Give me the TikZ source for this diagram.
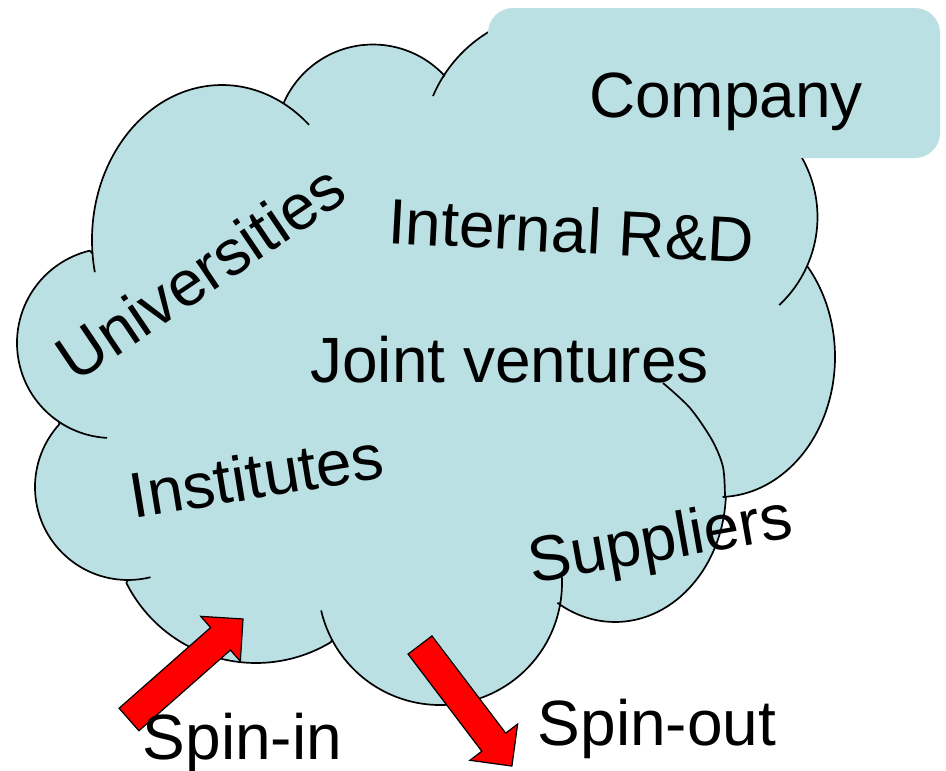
\documentclass[tikz,border=0pt]{standalone}
\usepackage{fontspec}
\setmainfont{Liberation Sans}
\definecolor{cloudc}{RGB}{187,224,227}
\tikzset{
  cloudshape/.style={fill=cloudc, draw=black, line width=1.7pt, line join=round},
  innerarc/.style={draw=black, line width=1.7pt},
  companybox/.style={fill=cloudc, rounded corners=25pt},
  redarrow/.style={fill=red, draw=black, line width=1.2pt, line join=miter},
  lbl/.style={font=\fontsize{64}{64}\selectfont, inner sep=0pt, anchor=base, text=black},
}
\begin{document}
\begin{tikzpicture}[x=1pt,y=-1pt]
\useasboundingbox (0,0) rectangle (946,771);
\fill[white] (0,0) rectangle (946,771);
% cloud outline: one arc per lobe, clockwise
\path[cloudshape]
  ([shift={(-45:120.5)}]697,217) arc[start angle=-45, end angle=24.5, radius=120.5]
  -- ([shift={(-40:116 and 140)}]719,357) arc[start angle=-40, end angle=88, x radius=116, y radius=140]
  -- ([shift={(3:111 and 132)}]615,490) arc[start angle=3, end angle=121, x radius=111, y radius=132]
  -- ([shift={(9.6:122)}]440,583) arc[start angle=9.6, end angle=152.2, radius=122]
  -- ([shift={(59:145)}]256,518) arc[start angle=59, end angle=153.4, radius=145]
  -- ([shift={(90:93)}]128,487) arc[start angle=90, end angle=222.4, radius=93]
  -- ([shift={(124:95)}]112,343) arc[start angle=124, end angle=256.4, radius=95]
  -- ([shift={(175:130 and 155)}]222,240) arc[start angle=175, end angle=298, x radius=130, y radius=155]
  -- ([shift={(203.4:97.5)}]373,142) arc[start angle=203.4, end angle=317.1, radius=97.5]
  -- ([shift={(212:138)}]560,150) arc[start angle=212, end angle=250, radius=138]
  -- (700,30) -- cycle;
% inner arcs of the cloud
\draw[innerarc] ([shift={(298:130 and 155)}]222,240) arc[start angle=298, end angle=312, x radius=130, y radius=155];
\draw[innerarc] ([shift={(203:138)}]560,150) arc[start angle=203, end angle=212, radius=138];
\draw[innerarc] ([shift={(168:130 and 155)}]222,240) arc[start angle=168, end angle=175, x radius=130, y radius=155];
\draw[innerarc] ([shift={(93:95)}]112,343) arc[start angle=93, end angle=124, radius=95];
\draw[innerarc] ([shift={(76:93)}]128,487) arc[start angle=76, end angle=90, radius=93];
\draw[innerarc] ([shift={(152.2:122)}]440,583) arc[start angle=152.2, end angle=167, radius=122];
\draw[innerarc] ([shift={(-3:122)}]440,583) arc[start angle=-3, end angle=9.6, radius=122];
\draw[innerarc] plot[smooth] coordinates {(725,497) (723,467) (712,440) (690,408) (663,383)};
\draw[innerarc] ([shift={(24.5:120.5)}]697,217) arc[start angle=24.5, end angle=47, radius=120.5];
% company box
\fill[companybox] (488,8) rectangle (940,158);
% arrows
\draw[redarrow, shift={(129,719.5)}, rotate=41.4]
  (0,-15) -- (122,-15) -- (122,-30) -- (152,0) -- (122,30) -- (122,15) -- (0,15) -- cycle;
\draw[redarrow, shift={(420,645)}, rotate=-52.8]
  (0,-15) -- (122,-15) -- (122,-30) -- (152,0) -- (122,30) -- (122,15) -- (0,15) -- cycle;
% labels
\node[lbl] (company) at (726,117) {Company};
\node[lbl, rotate=-3.1] (rnd) at (570,253) {Internal R\&D};
\node[lbl, rotate=34] (univ) at (213,291.5) {Universities};
\node[lbl] (jv) at (509.5,382) {Joint ventures};
\node[lbl, rotate=9.3] (inst) at (260,498) {Institutes};
\node[lbl, rotate=10] (supp) at (663.5,560) {Suppliers};
\node[lbl] (spinin) at (242.5,759) {Spin-in};
\node[lbl] (spinout) at (657,745) {Spin-out};
\end{tikzpicture}
\end{document}
